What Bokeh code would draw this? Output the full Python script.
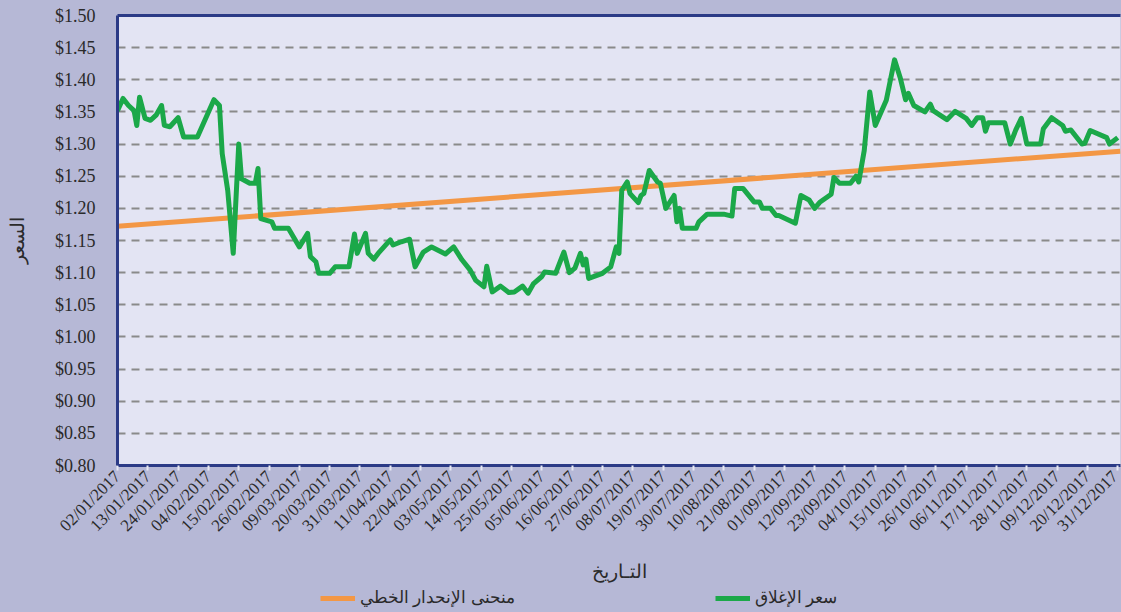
import math
from datetime import datetime
import pandas as pd
from bokeh.plotting import figure
from bokeh.layouts import column
from bokeh.models import (FixedTicker, DatetimeTickFormatter, NumeralTickFormatter,
                          Range1d, LinearAxis, Legend, LegendItem, ColumnDataSource)
from bokeh.embed import file_html
from bokeh.resources import INLINE

# ---------------- data ----------------
close_dates = [
    "2017-01-02", "2017-01-04", "2017-01-06", "2017-01-08", "2017-01-09", "2017-01-10",
    "2017-01-12", "2017-01-14", "2017-01-16", "2017-01-18", "2017-01-19", "2017-01-21",
    "2017-01-24", "2017-01-26", "2017-01-31", "2017-02-06", "2017-02-08", "2017-02-09",
    "2017-02-11", "2017-02-13", "2017-02-15", "2017-02-16", "2017-02-19", "2017-02-21",
    "2017-02-22", "2017-02-23", "2017-02-27", "2017-02-28", "2017-03-05", "2017-03-09",
    "2017-03-12", "2017-03-13", "2017-03-15", "2017-03-16", "2017-03-20", "2017-03-22",
    "2017-03-27", "2017-03-29", "2017-03-30", "2017-04-02", "2017-04-03", "2017-04-05",
    "2017-04-07", "2017-04-11", "2017-04-12", "2017-04-15", "2017-04-18", "2017-04-20",
    "2017-04-23", "2017-04-26", "2017-05-01", "2017-05-04", "2017-05-07", "2017-05-10",
    "2017-05-12", "2017-05-15", "2017-05-16", "2017-05-18", "2017-05-21", "2017-05-24",
    "2017-05-26", "2017-05-29", "2017-05-31", "2017-06-02", "2017-06-05", "2017-06-06",
    "2017-06-10", "2017-06-13", "2017-06-15", "2017-06-17", "2017-06-19", "2017-06-20",
    "2017-06-21", "2017-06-22", "2017-06-27", "2017-06-30", "2017-07-02", "2017-07-03",
    "2017-07-04", "2017-07-06", "2017-07-07", "2017-07-10", "2017-07-11", "2017-07-12",
    "2017-07-14", "2017-07-17", "2017-07-18", "2017-07-20", "2017-07-23", "2017-07-24",
    "2017-07-25", "2017-07-26", "2017-07-31", "2017-08-01", "2017-08-04", "2017-08-10",
    "2017-08-13", "2017-08-14", "2017-08-17", "2017-08-21", "2017-08-23", "2017-08-24",
    "2017-08-27", "2017-08-29", "2017-08-30", "2017-09-05", "2017-09-07", "2017-09-10",
    "2017-09-12", "2017-09-14", "2017-09-18", "2017-09-19", "2017-09-21", "2017-09-25",
    "2017-09-27", "2017-09-28", "2017-09-30", "2017-10-02", "2017-10-04", "2017-10-08",
    "2017-10-11", "2017-10-13", "2017-10-15", "2017-10-16", "2017-10-18", "2017-10-22",
    "2017-10-24", "2017-10-25", "2017-10-30", "2017-11-02", "2017-11-06", "2017-11-08",
    "2017-11-10", "2017-11-12", "2017-11-13", "2017-11-14", "2017-11-20", "2017-11-22",
    "2017-11-24", "2017-11-26", "2017-11-28", "2017-12-03", "2017-12-04", "2017-12-07",
    "2017-12-11", "2017-12-12", "2017-12-14", "2017-12-18", "2017-12-19", "2017-12-21",
    "2017-12-27", "2017-12-28", "2017-12-31",
]
close_values = [
    1.352, 1.371, 1.360, 1.352, 1.329, 1.373,
    1.340, 1.337, 1.345, 1.360, 1.329, 1.327,
    1.341, 1.311, 1.311, 1.369, 1.360, 1.285,
    1.228, 1.130, 1.300, 1.246, 1.239, 1.239,
    1.262, 1.184, 1.179, 1.169, 1.169, 1.140,
    1.161, 1.125, 1.117, 1.099, 1.099, 1.109,
    1.109, 1.160, 1.130, 1.161, 1.130, 1.121,
    1.132, 1.151, 1.143, 1.148, 1.152, 1.109,
    1.132, 1.140, 1.129, 1.140, 1.120, 1.104,
    1.088, 1.078, 1.110, 1.070, 1.079, 1.069,
    1.070, 1.079, 1.068, 1.083, 1.094, 1.101,
    1.099, 1.132, 1.100, 1.107, 1.130, 1.112,
    1.121, 1.091, 1.099, 1.109, 1.140, 1.130,
    1.228, 1.241, 1.223, 1.209, 1.220, 1.223,
    1.259, 1.241, 1.239, 1.200, 1.220, 1.179,
    1.200, 1.169, 1.169, 1.179, 1.191, 1.191,
    1.188, 1.231, 1.231, 1.210, 1.210, 1.200,
    1.200, 1.189, 1.189, 1.177, 1.220, 1.213,
    1.200, 1.210, 1.222, 1.248, 1.239, 1.239,
    1.250, 1.241, 1.290, 1.381, 1.329, 1.368,
    1.431, 1.404, 1.369, 1.379, 1.360, 1.350,
    1.362, 1.352, 1.338, 1.351, 1.340, 1.329,
    1.341, 1.341, 1.320, 1.333, 1.333, 1.300,
    1.322, 1.340, 1.300, 1.300, 1.324, 1.341,
    1.329, 1.320, 1.322, 1.300, 1.301, 1.321,
    1.310, 1.300, 1.310,
]

trend_dates = ["2017-01-02", "2018-01-01"]
trend_values = [1.172, 1.289]

x_tick_labels = [
    "02/01/2017", "13/01/2017", "24/01/2017", "04/02/2017", "15/02/2017", "26/02/2017",
    "09/03/2017", "20/03/2017", "31/03/2017", "11/04/2017", "22/04/2017", "03/05/2017",
    "14/05/2017", "25/05/2017", "05/06/2017", "16/06/2017", "27/06/2017", "08/07/2017",
    "19/07/2017", "30/07/2017", "10/08/2017", "21/08/2017", "01/09/2017", "12/09/2017",
    "23/09/2017", "04/10/2017", "15/10/2017", "26/10/2017", "06/11/2017", "17/11/2017",
    "28/11/2017", "09/12/2017", "20/12/2017", "31/12/2017",
]
y_ticks = [0.80, 0.85, 0.90, 0.95, 1.00, 1.05, 1.10, 1.15, 1.20, 1.25, 1.30, 1.35, 1.40, 1.45, 1.50]

series_close_name = "سعر الإغلاق"
series_trend_name = "منحنى الإنحدار الخطي"
x_title = "التـاريخ"
y_title = "السعر"

# ---------------- styling ----------------
OUTER = "#B6B8D6"
INNER = "#E3E4F3"
NAVY = "#2B3A86"
GREEN = "#1BA849"
ORANGE = "#F39745"
FONT = "Liberation Serif"
TXT = "#2A2A2A"

W = 1121
H_LEG = 28
H_MAIN = 612 - H_LEG
FRAME_LEFT = 117

close_src = ColumnDataSource(dict(x=pd.to_datetime(close_dates), y=close_values))
trend_src = ColumnDataSource(dict(x=pd.to_datetime(trend_dates), y=trend_values))
tick_dt = pd.to_datetime(x_tick_labels, format="%d/%m/%Y")
tick_ms = [int(t.value // 10**6) for t in tick_dt]

p = figure(width=W, height=H_MAIN, x_axis_type="datetime",
           output_backend="svg", toolbar_location=None,
           x_range=Range1d(datetime(2017, 1, 2), datetime(2018, 1, 1)),
           y_range=Range1d(0.80, 1.50),
           min_border_left=FRAME_LEFT, min_border_right=1, min_border_top=15,
           min_border_bottom=H_MAIN - 467)

p.background_fill_color = INNER
p.border_fill_color = OUTER
p.outline_line_color = "#C9CBE2"
p.outline_line_width = 1

# grid
p.xgrid.grid_line_color = None
p.ygrid.ticker = FixedTicker(ticks=y_ticks)
p.ygrid.grid_line_color = "#8A8A8A"
p.ygrid.grid_line_width = 2
p.ygrid.grid_line_dash = "8 6"

# y axis
ya = p.yaxis[0]
ya.ticker = FixedTicker(ticks=y_ticks)
ya.formatter = NumeralTickFormatter(format="$0.00")
ya.axis_line_color = NAVY
ya.axis_line_width = 3
ya.major_tick_line_color = None
ya.minor_tick_line_color = None
ya.major_label_text_font = FONT
ya.major_label_text_font_size = "18px"
ya.major_label_text_color = TXT
ya.major_label_standoff = 16
ya.axis_label = y_title
ya.axis_label_text_font = FONT
ya.axis_label_text_font_size = "19px"
ya.axis_label_text_font_style = "normal"
ya.axis_label_text_color = TXT
ya.axis_label_standoff = 24

# x axis
xa = p.xaxis[0]
xa.ticker = FixedTicker(ticks=tick_ms)
fmt = "%d/%m/%Y"
xa.formatter = DatetimeTickFormatter(microseconds=fmt, milliseconds=fmt, seconds=fmt,
                                     minsec=fmt, minutes=fmt, hourmin=fmt, hours=fmt,
                                     days=fmt, months=fmt, years=fmt)
xa.axis_line_color = NAVY
xa.axis_line_width = 3
xa.major_tick_line_color = "#E6E7F2"
xa.major_tick_line_width = 2
xa.major_tick_out = 5
xa.major_tick_in = 0
xa.minor_tick_line_color = None
xa.major_label_orientation = math.pi / 4
xa.major_label_text_font = FONT
xa.major_label_text_font_size = "17px"
xa.major_label_text_color = TXT
xa.major_label_standoff = 3
xa.axis_label = x_title
xa.axis_label_text_font = FONT
xa.axis_label_text_font_size = "19px"
xa.axis_label_text_font_style = "normal"
xa.axis_label_text_color = TXT
xa.axis_label_standoff = 16

# top border line
top = LinearAxis(ticker=FixedTicker(ticks=[]), axis_line_color=NAVY, axis_line_width=3,
                 major_tick_line_color=None, minor_tick_line_color=None,
                 major_label_text_color=None)
p.add_layout(top, "above")

# series
r_trend = p.line("x", "y", source=trend_src, line_color=ORANGE, line_width=5)
r_close = p.line("x", "y", source=close_src, line_color=GREEN, line_width=5,
                 line_join="round")

# legend strip below the chart (its own view range hides the lines, keeps the swatches)
lg = figure(width=W, height=H_LEG, output_backend="svg", toolbar_location=None,
            x_range=Range1d(0, 1), y_range=Range1d(0, 1),
            x_axis_location=None, y_axis_location=None,
            min_border_left=FRAME_LEFT, min_border_right=1,
            min_border_top=0, min_border_bottom=0)
lg.background_fill_color = OUTER
lg.border_fill_color = OUTER
lg.outline_line_color = None
lg.xgrid.grid_line_color = None
lg.ygrid.grid_line_color = None
lr_trend = lg.line("x", "y", source=trend_src, line_color=ORANGE, line_width=5)
lr_close = lg.line("x", "y", source=close_src, line_color=GREEN, line_width=5)

legend = Legend(items=[LegendItem(label=series_trend_name, renderers=[lr_trend]),
                       LegendItem(label=series_close_name, renderers=[lr_close])],
                orientation="horizontal", location=(320 - FRAME_LEFT, 4),
                background_fill_alpha=0, border_line_color=None,
                label_text_font=FONT, label_text_font_size="17px",
                label_text_color=TXT,
                glyph_width=35, glyph_height=8, spacing=200,
                padding=0, margin=0)
lg.add_layout(legend, "center")

layout = column(p, lg, spacing=0, styles={"background-color": OUTER})
open("out.html", "w").write(file_html(layout, INLINE))
